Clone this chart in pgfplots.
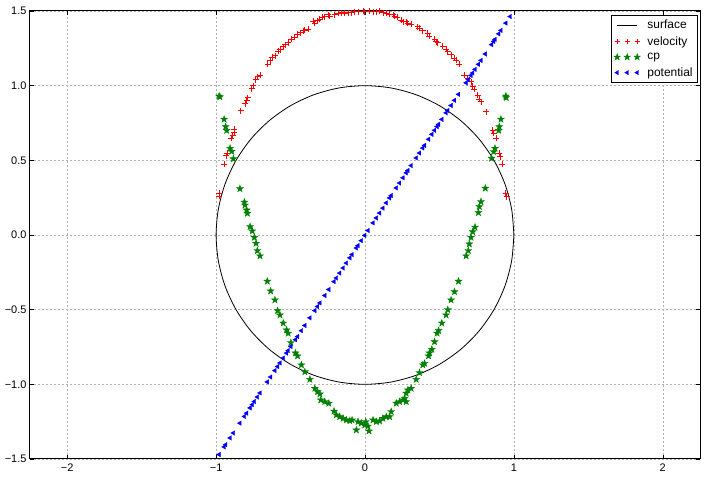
\documentclass[border=0pt]{standalone}
\usepackage{fontspec}
\setmainfont{Liberation Sans}
\usepackage{pgfplots}
\pgfplotsset{compat=1.18}
\usetikzlibrary{plotmarks}
\definecolor{mplgreen}{rgb}{0,0.5,0}
\definecolor{mplred}{rgb}{1,0,0}
\pgfdeclareplotmark{fstar}{%
  \pgfpathmoveto{\pgfpointpolar{90}{\pgfplotmarksize}}%
  \pgfpathlineto{\pgfpointpolar{126}{0.4*\pgfplotmarksize}}%
  \pgfpathlineto{\pgfpointpolar{162}{\pgfplotmarksize}}%
  \pgfpathlineto{\pgfpointpolar{198}{0.4*\pgfplotmarksize}}%
  \pgfpathlineto{\pgfpointpolar{234}{\pgfplotmarksize}}%
  \pgfpathlineto{\pgfpointpolar{270}{0.4*\pgfplotmarksize}}%
  \pgfpathlineto{\pgfpointpolar{306}{\pgfplotmarksize}}%
  \pgfpathlineto{\pgfpointpolar{342}{0.4*\pgfplotmarksize}}%
  \pgfpathlineto{\pgfpointpolar{18}{\pgfplotmarksize}}%
  \pgfpathlineto{\pgfpointpolar{54}{0.4*\pgfplotmarksize}}%
  \pgfpathclose
  \pgfusepathqfillstroke
}
\pgfdeclareplotmark{rplus}{%
  \pgfsetstrokecolor{mplred}%
  \pgfsetlinewidth{0.8bp}%
  \pgfpathmoveto{\pgfqpoint{-\pgfplotmarksize}{0pt}}%
  \pgfpathlineto{\pgfqpoint{\pgfplotmarksize}{0pt}}%
  \pgfpathmoveto{\pgfqpoint{0pt}{-\pgfplotmarksize}}%
  \pgfpathlineto{\pgfqpoint{0pt}{\pgfplotmarksize}}%
  \pgfusepathqstroke
}
\begin{document}
\begin{tikzpicture}
\begin{axis}[
  scale only axis,
  width=670bp, height=448bp,
  xmin=-2.25, xmax=2.25, ymin=-1.5, ymax=1.5,
  xtick={-2,-1,0,1,2},
  xticklabels={−2,−1,0,1,2},
  ytick={-1.5,-1,-0.5,0,0.5,1,1.5},
  yticklabels={−1.5,−1.0,−0.5,0.0,0.5,1.0,1.5},
  tick label style={font=\fontsize{11}{12}\selectfont},
  xticklabel style={yshift=-1bp},
  tick align=inside,
  major tick length=4bp,
  tick style={black, line width=0.5bp},
  grid=major,
  major grid style={gray!60, dash pattern=on 2bp off 2bp, line width=0.5bp},
  axis line style={line width=1bp},
  clip=true,
  legend cell align=left,
  legend style={at={(rel axis cs:0.997,0.991)}, anchor=north east,
    font=\fontsize{12}{14}\selectfont, draw=black, line width=0.7bp,
    inner xsep=3bp, inner ysep=2.5bp, row sep=2.5bp,
    /tikz/every odd column/.append style={column sep=5bp}},
]
\addplot[black, line width=0.8bp, smooth,
  legend image code/.code={\draw[black] (0bp,0bp) -- (20bp,0bp);}] coordinates {
(1,0) (0.9848,0.1736) (0.9397,0.3420) (0.8660,0.5) (0.7660,0.6428) (0.6428,0.7660) (0.5,0.8660) (0.3420,0.9397) (0.1736,0.9848) (0,1)
(-0.1736,0.9848) (-0.3420,0.9397) (-0.5,0.8660) (-0.6428,0.7660) (-0.7660,0.6428) (-0.8660,0.5) (-0.9397,0.3420) (-0.9848,0.1736) (-1,0)
(-0.9848,-0.1736) (-0.9397,-0.3420) (-0.8660,-0.5) (-0.7660,-0.6428) (-0.6428,-0.7660) (-0.5,-0.8660) (-0.3420,-0.9397) (-0.1736,-0.9848) (0,-1)
(0.1736,-0.9848) (0.3420,-0.9397) (0.5,-0.8660) (0.6428,-0.7660) (0.7660,-0.6428) (0.8660,-0.5) (0.9397,-0.3420) (0.9848,-0.1736) (1,0)
};
\addlegendentry{surface}
\addplot[only marks, mplred, mark=rplus, mark size=3bp,
  legend image code/.code={\draw[only marks, mark=rplus, mark size=2.6bp] plot coordinates {(0bp,0bp) (10bp,0bp) (20bp,0bp)};}] coordinates {
(-0.978,0.28) (-0.978,0.26) (-0.944,0.475) (-0.933,0.53) (-0.924,0.547) (-0.900,0.647) (-0.889,0.670) (-0.880,0.685) (-0.877,0.708) (-0.835,0.833)
(-0.806,0.88) (-0.795,0.90) (-0.788,0.92) (-0.761,0.98) (-0.750,1.0) (-0.735,1.04) (-0.721,1.06) (-0.705,1.07) (-0.654,1.145) (-0.638,1.167)
(-0.623,1.19) (-0.605,1.2) (-0.583,1.23) (-0.571,1.24) (-0.549,1.26) (-0.534,1.273) (-0.516,1.288) (-0.494,1.31) (-0.471,1.324) (-0.453,1.344)
(-0.437,1.355) (-0.415,1.368) (-0.404,1.373) (-0.382,1.378) (-0.348,1.43) (-0.337,1.418) (-0.319,1.435) (-0.303,1.445) (-0.288,1.458) (-0.27,1.462)
(-0.248,1.474) (-0.236,1.467) (-0.203,1.474) (-0.181,1.485) (-0.159,1.489) (-0.136,1.485) (-0.114,1.489) (-0.092,1.489) (-0.069,1.494) (-0.047,1.496)
(-0.013,1.50) (-0.002,1.494)
(0.031,1.50) (0.054,1.496) (0.076,1.494) (0.098,1.50) (0.121,1.489) (0.143,1.485) (0.165,1.48) (0.188,1.474) (0.199,1.467) (0.216,1.458)
(0.243,1.44) (0.255,1.429) (0.277,1.429) (0.288,1.418) (0.31,1.413) (0.355,1.395) (0.366,1.384) (0.388,1.368) (0.422,1.351) (0.433,1.333)
(0.467,1.311) (0.478,1.295) (0.489,1.288) (0.523,1.266) (0.545,1.244) (0.556,1.228) (0.578,1.206) (0.601,1.184) (0.612,1.172) (0.634,1.145)
(0.668,1.072) (0.690,1.05) (0.712,1.027) (0.723,0.998) (0.735,0.976) (0.757,0.938) (0.768,0.909) (0.779,0.893) (0.813,0.826)
(0.857,0.703) (0.864,0.68) (0.88,0.647) (0.902,0.547) (0.909,0.524) (0.92,0.476) (0.946,0.28) (0.953,0.257)
};
\addlegendentry{velocity}
\addplot[only marks, mplgreen, mark=fstar, mark size=3.6bp, line width=0.4bp,
  legend image code/.code={\draw[only marks, mplgreen, fill=mplgreen, mark=fstar, mark size=3.4bp] plot coordinates {(0bp,0bp) (10bp,0bp) (20bp,0bp)};}] coordinates {
(-0.98,0.93) (-0.975,0.925) (-0.946,0.775) (-0.936,0.725) (-0.929,0.70) (-0.906,0.58) (-0.895,0.56) (-0.884,0.51) (-0.84,0.31) (-0.81,0.22)
(-0.806,0.20) (-0.795,0.167) (-0.79,0.145) (-0.772,0.056) (-0.757,0.027) (-0.743,-0.016) (-0.732,-0.056) (-0.723,-0.105) (-0.705,-0.14) (-0.656,-0.31)
(-0.634,-0.375) (-0.605,-0.435) (-0.587,-0.507) (-0.571,-0.536) (-0.549,-0.59) (-0.527,-0.636) (-0.516,-0.658) (-0.498,-0.721) (-0.467,-0.79) (-0.453,-0.81)
(-0.427,-0.87) (-0.404,-0.916) (-0.37,-0.967) (-0.337,-1.027) (-0.319,-1.05) (-0.303,-1.065) (-0.297,-1.105) (-0.27,-1.116) (-0.243,-1.127) (-0.208,-1.18)
(-0.192,-1.205) (-0.17,-1.217) (-0.147,-1.228) (-0.125,-1.239) (-0.102,-1.244) (-0.087,-1.239) (-0.058,-1.306) (-0.047,-1.25) (-0.025,-1.26) (-0.002,-1.273)
(0.005,-1.25) (0.02,-1.28) (0.027,-1.313) (0.054,-1.239) (0.076,-1.25) (0.098,-1.246) (0.12,-1.228) (0.143,-1.217) (0.165,-1.217) (0.176,-1.183)
(0.21,-1.127) (0.232,-1.116) (0.255,-1.105) (0.266,-1.094) (0.277,-1.116) (0.277,-1.06) (0.288,-1.038) (0.31,-1.027) (0.344,-0.967) (0.366,-0.922)
(0.388,-0.87) (0.40,-0.86) (0.427,-0.81) (0.433,-0.79) (0.449,-0.766) (0.467,-0.715) (0.484,-0.658) (0.494,-0.64) (0.516,-0.59) (0.545,-0.536)
(0.556,-0.50) (0.578,-0.435) (0.601,-0.38) (0.628,-0.31) (0.679,-0.14) (0.694,-0.105) (0.701,-0.06) (0.712,-0.016) (0.723,0.022) (0.739,0.052)
(0.762,0.15) (0.768,0.19) (0.779,0.223) (0.808,0.313) (0.85,0.514) (0.864,0.558) (0.873,0.58) (0.898,0.70) (0.902,0.725) (0.913,0.775)
(0.946,0.93) (0.948,0.92)
};
\addlegendentry{cp}
\addplot[only marks, blue, mark=triangle*, mark size=2.6bp, mark options={rotate=90}, line width=0.3bp,
  legend image code/.code={\draw[only marks, blue, fill=blue, mark=triangle*, mark size=2.5bp, mark options={rotate=90}] plot coordinates {(0bp,0bp) (10bp,0bp) (20bp,0bp)};}] coordinates {
(-0.98,-1.47) (-0.946,-1.419) (-0.936,-1.404) (-0.906,-1.359) (-0.884,-1.326) (-0.84,-1.26) (-0.81,-1.215) (-0.795,-1.193) (-0.772,-1.158) (-0.757,-1.136)
(-0.743,-1.115) (-0.723,-1.085) (-0.705,-1.058) (-0.656,-0.984) (-0.634,-0.951) (-0.605,-0.908) (-0.587,-0.881) (-0.571,-0.857) (-0.549,-0.824) (-0.527,-0.791)
(-0.516,-0.774) (-0.498,-0.747) (-0.467,-0.701) (-0.453,-0.680) (-0.427,-0.641) (-0.404,-0.606) (-0.37,-0.555) (-0.337,-0.506) (-0.319,-0.479) (-0.303,-0.455)
(-0.27,-0.405) (-0.243,-0.365) (-0.208,-0.312) (-0.192,-0.288) (-0.17,-0.255) (-0.147,-0.221) (-0.125,-0.188) (-0.102,-0.153) (-0.087,-0.131) (-0.058,-0.087)
(-0.047,-0.071) (-0.025,-0.038) (-0.002,-0.003)
(0.02,0.03) (0.054,0.081) (0.076,0.114) (0.098,0.147) (0.12,0.18) (0.143,0.215) (0.165,0.248) (0.176,0.264) (0.21,0.315) (0.232,0.348)
(0.255,0.383) (0.277,0.416) (0.288,0.432) (0.31,0.465) (0.344,0.516) (0.366,0.549) (0.388,0.582) (0.40,0.6) (0.427,0.641) (0.449,0.674)
(0.467,0.701) (0.484,0.726) (0.494,0.741) (0.516,0.774) (0.545,0.818) (0.556,0.834) (0.578,0.867) (0.601,0.902) (0.628,0.942) (0.679,1.019)
(0.694,1.041) (0.712,1.068) (0.723,1.085) (0.739,1.109) (0.762,1.143) (0.779,1.169) (0.808,1.212) (0.85,1.275) (0.864,1.296) (0.873,1.31)
(0.898,1.347) (0.913,1.37) (0.946,1.419) (0.975,1.463)
};
\addlegendentry{potential}
\end{axis}
\path[use as bounding box] (-30bp,-19bp) rectangle (676bp,459bp);
\end{tikzpicture}
\end{document}
